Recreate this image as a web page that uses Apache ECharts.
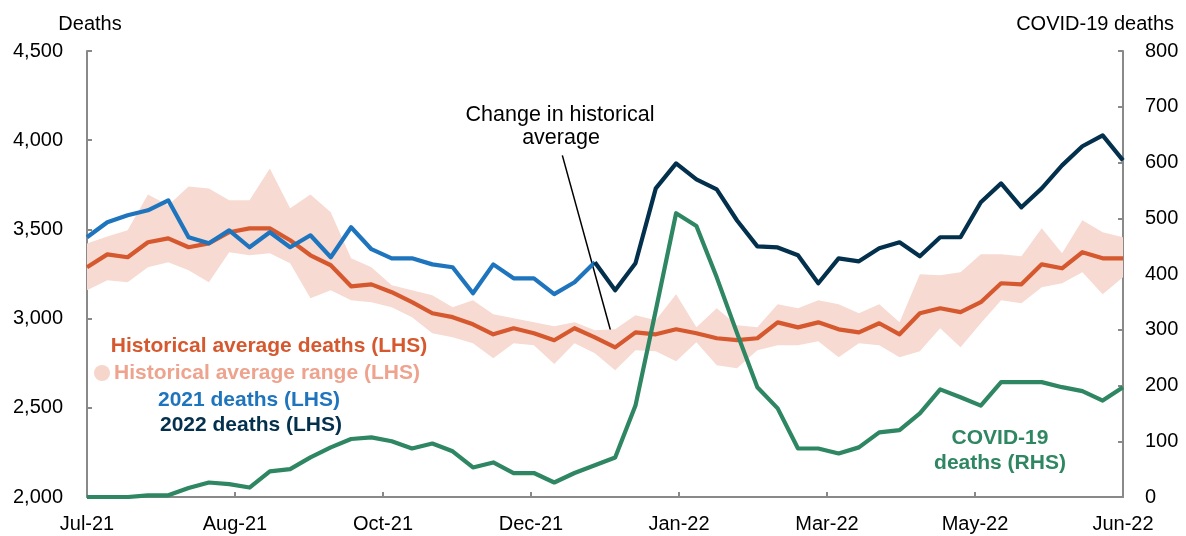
<!DOCTYPE html>
<html>
<head>
<meta charset="utf-8">
<script src="https://cdn.jsdelivr.net/npm/echarts@6/dist/echarts.min.js"></script>
<style>
html, body { margin: 0; padding: 0; background: #fff; }
#chart { width: 1186px; height: 536px; }
</style>
</head>
<body>
<div id="chart"></div>
<script>
// weekly observations, Jul-21 to Jun-22
var weeks = [1, 2, 3, 4, 5, 6, 7, 8, 9, 10, 11, 12, 13, 14, 15, 16, 17, 18, 19, 20, 21, 22, 23, 24, 25, 26,
    27, 28, 29, 30, 31, 32, 33, 34, 35, 36, 37, 38, 39, 40, 41, 42, 43, 44, 45, 46, 47, 48, 49, 50, 51, 52];
var xTickLabels = ['Jul-21', 'Aug-21', 'Oct-21', 'Dec-21', 'Jan-22', 'Mar-22', 'May-22', 'Jun-22'];

var histAverage = [3288, 3360, 3344, 3428, 3450, 3400, 3422, 3484, 3506, 3506, 3439, 3355, 3299, 3181, 3192, 3148,
    3092, 3030, 3008, 2968, 2912, 2946, 2918, 2879, 2946, 2895, 2839, 2923, 2912, 2940, 2918, 2890, 2879, 2890,
    2979, 2951, 2979, 2940, 2923, 2974, 2912, 3030, 3058, 3036, 3092, 3198, 3192, 3304, 3282, 3372, 3338, 3338];
var histUpper = [3421, 3460, 3495, 3696, 3635, 3740, 3729, 3663, 3663, 3842, 3618, 3696, 3596, 3338, 3288, 3187,
    3159, 3131, 3064, 3103, 3025, 3002, 2980, 2957, 2980, 2935, 2940, 3019, 2991, 3136, 2951, 3058, 2963, 2951,
    3080, 3058, 3103, 3080, 3030, 3080, 2980, 3249, 3243, 3260, 3361, 3361, 3350, 3507, 3366, 3551, 3484, 3456];
var histLower = [3159, 3215, 3204, 3288, 3316, 3271, 3204, 3372, 3355, 3366, 3310, 3114, 3159, 3103, 3092, 3064,
    3008, 2918, 2896, 2862, 2778, 2862, 2851, 2745, 2862, 2806, 2710, 2822, 2817, 2761, 2867, 2739, 2722, 2822,
    2851, 2851, 2873, 2783, 2862, 2851, 2783, 2817, 2946, 2839, 2974, 3103, 3086, 3176, 3198, 3260, 3137, 3232];
var deaths2021 = [3456, 3540, 3579, 3607, 3663, 3456, 3422, 3495, 3400, 3484, 3400, 3467, 3344, 3512, 3389, 3338,
    3338, 3304, 3288, 3142, 3304, 3226, 3226, 3137, 3204, 3316, null, null, null, null, null, null, null, null,
    null, null, null, null, null, null, null, null, null, null, null, null, null, null, null, null, null, null];
var deaths2022 = [null, null, null, null, null, null, null, null, null, null, null, null, null, null, null, null,
    null, null, null, null, null, null, null, null, null, 3316, 3159, 3310, 3730, 3870, 3780, 3724, 3550, 3405,
    3399, 3355, 3198, 3338, 3321, 3394, 3428, 3349, 3456, 3456, 3652, 3758, 3624, 3730, 3859, 3966, 4027, 3887];
var covidDeaths = [0, 0, 0, 3, 3, 16, 26, 23, 17, 46, 50, 71, 89, 104, 107, 100, 87, 96, 82, 53, 62, 43, 43, 26,
    43, 57, 71, 164, 335, 509, 486, 394, 294, 197, 159, 87, 87, 78, 89, 116, 120, 150, 193, 179, 164, 206, 206,
    206, 197, 190, 173, 197];

var FONT = "'Liberation Sans', Arial, sans-serif"
var axisGrey = '#898989'
var orange = '#D5582E'
var band = '#F7DAD1'
var blue = '#1F75BD'
var navy = '#03304C'
var green = '#2E8662'

var bandWidth = histUpper.map(function (v, i) { return v - histLower[i] })
var weeksPerTick = (weeks.length - 1) / (xTickLabels.length - 1)

function lineSeries(name, data, color, yIndex) {
    return {
        name: name,
        type: 'line',
        data: data,
        yAxisIndex: yIndex || 0,
        symbol: 'none',
        connectNulls: false,
        lineStyle: { color: color, width: 4.2, join: 'round' },
        itemStyle: { color: color },
        silent: true
    }
}

var chart = echarts.init(document.getElementById('chart'))

var option = {
    animation: false,
    textStyle: { fontFamily: FONT },
    grid: { left: 87, right: 63, top: 51, bottom: 39, containLabel: false },
    xAxis: [
        {
            type: 'category',
            data: weeks,
            boundaryGap: false,
            show: false
        },
        {
            type: 'value',
            min: 0,
            max: xTickLabels.length - 1,
            interval: 1,
            position: 'bottom',
            axisLine: { show: true, lineStyle: { color: axisGrey, width: 2 } },
            axisTick: { show: true, inside: true, length: 5, lineStyle: { color: axisGrey, width: 2 } },
            splitLine: { show: false },
            axisLabel: {
                margin: 17,
                fontSize: 20,
                color: '#000',
                fontFamily: FONT,
                formatter: function (v) { return xTickLabels[Math.round(v)] }
            }
        }
    ],
    yAxis: [
        {
            type: 'value',
            min: 2000,
            max: 4500,
            interval: 500,
            position: 'left',
            axisLine: { show: true, lineStyle: { color: axisGrey, width: 2 } },
            axisTick: { show: true, inside: true, length: 5, lineStyle: { color: axisGrey, width: 2 } },
            splitLine: { show: false },
            axisLabel: {
                margin: 24,
                fontSize: 20,
                color: '#000',
                fontFamily: FONT,
                formatter: function (v) { return v.toLocaleString('en-US') }
            }
        },
        {
            type: 'value',
            min: 0,
            max: 800,
            interval: 100,
            position: 'right',
            axisLine: { show: true, lineStyle: { color: axisGrey, width: 2 } },
            axisTick: { show: true, inside: true, length: 5, lineStyle: { color: axisGrey, width: 2 } },
            splitLine: { show: false },
            axisLabel: { margin: 22, fontSize: 20, color: '#000', fontFamily: FONT }
        }
    ],
    series: [
        {
            name: 'range base',
            type: 'line',
            data: histLower,
            stack: 'range',
            symbol: 'none',
            lineStyle: { opacity: 0 },
            silent: true
        },
        {
            name: 'Historical average range (LHS)',
            type: 'line',
            data: bandWidth,
            stack: 'range',
            symbol: 'none',
            lineStyle: { opacity: 0 },
            areaStyle: { color: band, opacity: 1 },
            silent: true
        },
        lineSeries('Historical average deaths (LHS)', histAverage, orange),
        lineSeries('COVID-19 deaths (RHS)', covidDeaths, green, 1),
        lineSeries('2021 deaths (LHS)', deaths2021, blue),
        lineSeries('2022 deaths (LHS)', deaths2022, navy)
    ]
}

chart.setOption(option)

// annotation pointer, placed through the chart's own scales
var annoFrom = chart.convertToPixel({ xAxisIndex: 1, yAxisIndex: 0 }, [23.4 / weeksPerTick, 3915])
var annoTo = chart.convertToPixel({ xAxisIndex: 0, yAxisIndex: 0 }, [26, histAverage[26]])

function label(text, x, y, color, bold, align, size) {
    return {
        type: 'text',
        x: x,
        y: y,
        silent: true,
        style: {
            text: text,
            fill: color,
            font: (bold ? 'bold ' : '') + (size || 20) + 'px ' + FONT,
            align: align || 'center',
            verticalAlign: 'middle'
        }
    }
}

chart.setOption({
    graphic: [
        label('Deaths', 90, 24, '#000'),
        label('COVID-19 deaths', 1174, 24, '#000', false, 'right'),
        label('Change in historical', 560, 115, '#000', false, 'center', 21.5),
        label('average', 561, 138, '#000', false, 'center', 21.5),
        {
            type: 'line',
            silent: true,
            shape: { x1: annoFrom[0], y1: annoFrom[1], x2: annoTo[0], y2: annoTo[1] },
            style: { stroke: '#000', lineWidth: 1.5 }
        },
        label('Historical average deaths (LHS)', 269, 346, orange, true, 'center', 21),
        { type: 'circle', silent: true, shape: { cx: 102, cy: 373, r: 8 }, style: { fill: '#F6D5CB' } },
        label('Historical average range (LHS)', 267, 373, '#EDA38E', true, 'center', 21),
        label('2021 deaths (LHS)', 249, 400, blue, true, 'center', 21),
        label('2022 deaths (LHS)', 251, 425, navy, true, 'center', 21),
        label('COVID-19', 1000, 438, green, true, 'center', 21),
        label('deaths (RHS)', 1000, 463, green, true, 'center', 21)
    ]
})
</script>
</body>
</html>
